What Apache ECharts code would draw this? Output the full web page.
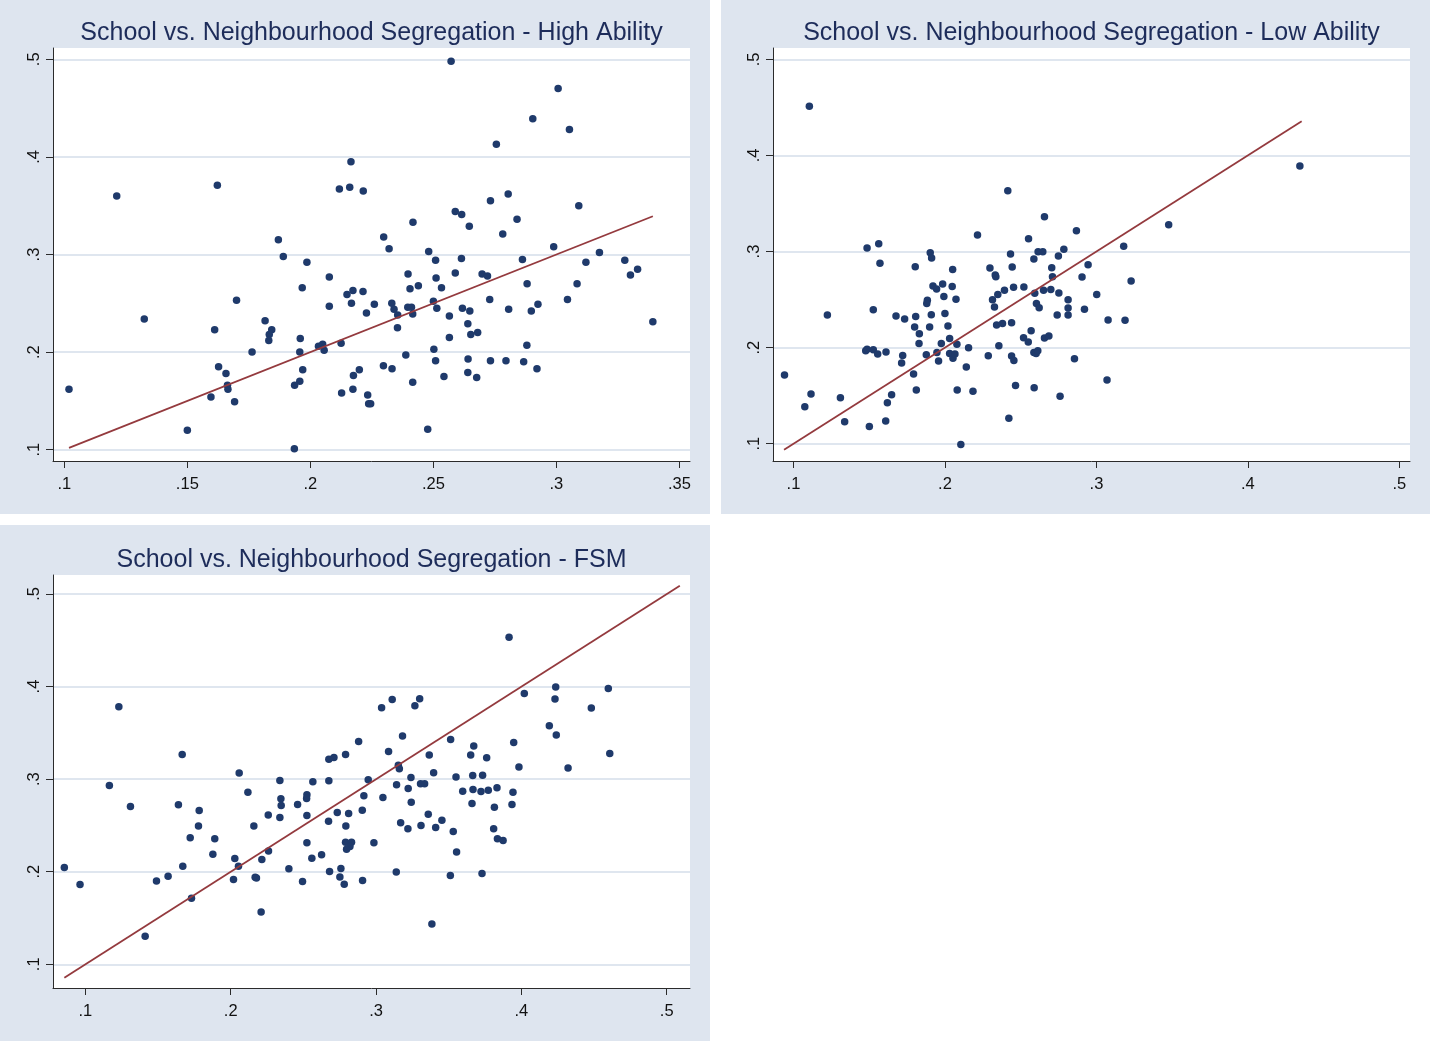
<!DOCTYPE html>
<html>
<head>
<meta charset="utf-8">
<script src="https://cdn.jsdelivr.net/npm/echarts@6/dist/echarts.min.js"></script>
<style>
  html, body { margin: 0; padding: 0; background: #fff; }
  #main { width: 1430px; height: 1041px; }
</style>
</head>
<body>
<div id="main"></div>
<script>
// school segregation (y) vs neighbourhood segregation (x), one pair per area
const highAbility = [
  [0.1019,0.162],[0.1213,0.360],[0.1325,0.234],[0.150,0.120],[0.1622,0.371],[0.1611,0.223],
  [0.1627,0.185],[0.1657,0.178],[0.1663,0.166],[0.1665,0.162],[0.1596,0.154],[0.1692,0.149],
  [0.170,0.253],[0.1763,0.200],[0.1816,0.232],[0.1843,0.223],[0.1833,0.218],[0.1831,0.212],
  [0.187,0.315],[0.189,0.298],[0.1986,0.292],[0.1967,0.266],[0.1959,0.214],[0.1957,0.200],
  [0.1969,0.182],[0.1957,0.170],[0.1936,0.166],[0.1935,0.101],[0.2077,0.277],[0.2077,0.247],
  [0.2033,0.206],[0.205,0.208],[0.2056,0.202],[0.2118,0.367],[0.216,0.369],[0.2165,0.395],
  [0.2149,0.259],[0.2173,0.263],[0.2167,0.250],[0.2125,0.209],[0.2127,0.158],[0.2173,0.162],
  [0.2175,0.176],[0.2199,0.182],[0.2572,0.498],[0.3007,0.470],[0.2904,0.439],[0.3053,0.428],
  [0.2756,0.413],[0.2215,0.365],[0.2732,0.355],[0.2804,0.362],[0.3091,0.350],[0.2589,0.344],
  [0.2615,0.341],[0.2646,0.329],[0.2417,0.333],[0.284,0.336],[0.2782,0.321],[0.2298,0.318],
  [0.232,0.306],[0.2481,0.303],[0.2509,0.294],[0.2614,0.296],[0.2989,0.308],[0.2862,0.295],
  [0.3175,0.302],[0.312,0.292],[0.3278,0.294],[0.3301,0.279],[0.333,0.285],[0.3392,0.231],
  [0.3084,0.270],[0.3045,0.254],[0.2881,0.270],[0.2925,0.249],[0.2898,0.242],[0.2806,0.244],
  [0.288,0.207],[0.2867,0.190],[0.2921,0.183],[0.2795,0.191],[0.2732,0.191],[0.2698,0.280],
  [0.272,0.278],[0.2729,0.254],[0.268,0.220],[0.2652,0.218],[0.264,0.229],[0.2648,0.242],
  [0.2618,0.245],[0.2565,0.237],[0.2565,0.215],[0.2589,0.281],[0.2533,0.266],[0.2511,0.276],
  [0.250,0.252],[0.2514,0.245],[0.2502,0.203],[0.2509,0.191],[0.2543,0.175],[0.2641,0.193],
  [0.264,0.179],[0.2676,0.174],[0.2477,0.121],[0.2397,0.280],[0.2405,0.265],[0.2439,0.268],
  [0.2396,0.246],[0.2411,0.246],[0.2416,0.239],[0.2331,0.250],[0.234,0.244],[0.2355,0.238],
  [0.2354,0.225],[0.226,0.249],[0.2228,0.240],[0.2214,0.262],[0.2388,0.197],[0.2297,0.186],
  [0.2332,0.183],[0.2416,0.169],[0.2233,0.156],[0.2237,0.147],[0.2245,0.147]
];
const lowAbility = [
  [0.0941,0.1715],[0.1105,0.4511],[0.1075,0.1385],[0.1116,0.1517],[0.1224,0.2339],[0.131,0.1479],
  [0.1338,0.1229],[0.1486,0.3036],[0.1563,0.3082],[0.1571,0.2877],[0.1527,0.2395],[0.1477,0.1968],
  [0.1486,0.1982],[0.1527,0.1978],[0.1556,0.1933],[0.1611,0.1954],[0.1501,0.118],[0.1609,0.1236],
  [0.162,0.1427],[0.1648,0.151],[0.1677,0.2329],[0.1734,0.2297],[0.1721,0.1919],[0.1714,0.184],
  [0.1793,0.1725],[0.1811,0.1559],[0.1804,0.2842],[0.1807,0.2325],[0.18,0.2214],[0.1831,0.2145],
  [0.1829,0.2044],[0.1877,0.1926],[0.1903,0.2988],[0.1912,0.2932],[0.1884,0.2492],[0.188,0.246],
  [0.191,0.2343],[0.1899,0.2214],[0.1921,0.2641],[0.1945,0.261],[0.1985,0.2662],[0.1993,0.2533],
  [0.2,0.2356],[0.202,0.2225],[0.1976,0.2044],[0.1947,0.195],[0.1958,0.186],[0.2031,0.2096],
  [0.2031,0.194],[0.2053,0.1888],[0.2066,0.1933],[0.2079,0.2034],[0.2051,0.2814],[0.2048,0.2637],
  [0.2073,0.2502],[0.2081,0.1559],[0.2105,0.0993],[0.2141,0.1798],[0.2156,0.1999],[0.2185,0.1545],
  [0.2215,0.3172],[0.2286,0.1916],[0.2297,0.2828],[0.2332,0.2755],[0.2336,0.2738],[0.2314,0.2499],
  [0.2327,0.2422],[0.2349,0.2554],[0.2393,0.2596],[0.2341,0.2235],[0.238,0.2252],[0.2356,0.202],
  [0.2415,0.3633],[0.2433,0.2974],[0.2444,0.2839],[0.2453,0.2627],[0.244,0.2259],[0.244,0.1912],
  [0.2455,0.1867],[0.2466,0.1607],[0.2422,0.1264],[0.2521,0.2631],[0.2519,0.2103],[0.255,0.2058],
  [0.2552,0.3134],[0.2587,0.2922],[0.2615,0.2998],[0.2646,0.2998],[0.2657,0.3363],[0.2569,0.2176],
  [0.2587,0.195],[0.2602,0.194],[0.2613,0.1968],[0.2589,0.1583],[0.2593,0.2565],[0.2604,0.246],
  [0.2622,0.2415],[0.2651,0.2596],[0.2657,0.21],[0.2686,0.2121],[0.2699,0.2606],[0.2705,0.2832],
  [0.271,0.2738],[0.2749,0.2953],[0.2752,0.2568],[0.2785,0.3023],[0.2741,0.2339],[0.2813,0.2499],
  [0.2813,0.2412],[0.2813,0.2339],[0.276,0.1493],[0.2855,0.1885],[0.2868,0.3217],[0.3477,0.3279],
  [0.318,0.3054],[0.2945,0.2863],[0.2905,0.2735],[0.3229,0.2693],[0.3002,0.2554],[0.2921,0.2398],
  [0.3077,0.2287],[0.3189,0.2284],[0.307,0.1663],[0.4343,0.389]
];
const fsm = [
  [0.0855,0.2045],[0.0963,0.1861],[0.123,0.3782],[0.1165,0.2932],[0.131,0.2705],[0.1411,0.1303],
  [0.1489,0.1901],[0.1569,0.1951],[0.1666,0.3267],[0.164,0.2723],[0.1783,0.2661],[0.1778,0.2495],
  [0.1721,0.2366],[0.167,0.2059],[0.173,0.1714],[0.189,0.2355],[0.1877,0.2189],[0.2058,0.3065],
  [0.2118,0.2859],[0.2159,0.2495],[0.2028,0.2142],[0.2053,0.2059],[0.2019,0.1915],[0.2168,0.1941],
  [0.2177,0.1933],[0.2214,0.2132],[0.2209,0.1566],[0.2258,0.2614],[0.226,0.2225],[0.2338,0.2986],
  [0.2345,0.2787],[0.2347,0.2715],[0.2338,0.2586],[0.246,0.2726],[0.24,0.2031],[0.2524,0.2831],
  [0.2522,0.2791],[0.2565,0.2971],[0.2524,0.2607],[0.2524,0.2312],[0.2558,0.2146],[0.2494,0.1894],
  [0.2625,0.2182],[0.2675,0.3216],[0.271,0.3234],[0.2675,0.2982],[0.2673,0.2546],[0.2733,0.264],
  [0.268,0.2002],[0.279,0.3267],[0.2792,0.2495],[0.2811,0.2629],[0.279,0.2319],[0.2831,0.2319],
  [0.282,0.2272],[0.2797,0.2243],[0.2758,0.2034],[0.2751,0.1944],[0.2781,0.1865],[0.288,0.3407],
  [0.3038,0.3771],[0.3111,0.3861],[0.3267,0.3793],[0.33,0.3868],[0.3182,0.3465],[0.3086,0.3299],
  [0.3153,0.3151],[0.316,0.3112],[0.3366,0.326],[0.3513,0.3429],[0.324,0.3018],[0.3141,0.2939],
  [0.3221,0.2899],[0.3306,0.2949],[0.3334,0.2949],[0.3396,0.3068],[0.3242,0.2751],[0.3047,0.2802],
  [0.2916,0.282],[0.2946,0.2993],[0.2905,0.2665],[0.2985,0.2312],[0.2907,0.1905],[0.3139,0.1998],
  [0.3169,0.2528],[0.3219,0.2463],[0.3309,0.2499],[0.3359,0.2622],[0.341,0.2477],[0.3453,0.2557],
  [0.3531,0.2434],[0.3554,0.2214],[0.3511,0.1959],[0.3384,0.1436],[0.355,0.3022],[0.3596,0.2869],
  [0.3651,0.326],[0.3672,0.3357],[0.3665,0.304],[0.3667,0.2888],[0.366,0.2737],[0.3722,0.2867],
  [0.3733,0.3043],[0.3761,0.3231],[0.3772,0.2881],[0.3832,0.2906],[0.3814,0.2697],[0.3809,0.2463],
  [0.3835,0.2355],[0.3874,0.2337],[0.3729,0.198],[0.3915,0.4532],[0.3947,0.3396],[0.3983,0.313],
  [0.3942,0.2859],[0.3935,0.2726],[0.402,0.3926],[0.4192,0.3577],[0.4231,0.3865],[0.4236,0.3995],
  [0.424,0.3477],[0.4321,0.3119],[0.4481,0.3768],[0.4598,0.398],[0.4608,0.3278]
];

// 45 degree reference line (y = x) drawn between these x values
const highLine = [0.1019, 0.3392];
const lowLine = [0.0938, 0.4355];
const fsmLine = [0.0855, 0.5090];

// tick values
const highXTicks = [0.1, 0.15, 0.2, 0.25, 0.3, 0.35];
const tenthTicks = [0.1, 0.2, 0.3, 0.4, 0.5];

const titles = [
  'School vs. Neighbourhood Segregation - High Ability',
  'School vs. Neighbourhood Segregation - Low Ability',
  'School vs. Neighbourhood Segregation - FSM'
];

const navy = '#1f3a6b';
const maroon = '#943a3e';
const bg = '#dee5ef';
const grey = '#dfe6ef';
const font = 'Liberation Sans, Arial, sans-serif';

const fmt = v => String(+v.toFixed(2)).replace(/^0/, '');

const panels = [
  { data: highAbility, line: highLine, xTicks: highXTicks, x: [0.0954, 0.3543], y: [0.0884, 0.5116],
    grid: { left: 53, top: 48, width: 637, height: 413 }, bgRect: [0, 0, 710, 514] },
  { data: lowAbility, line: lowLine, xTicks: tenthTicks, x: [0.0865, 0.507], y: [0.082, 0.5118],
    grid: { left: 773, top: 48, width: 637, height: 413 }, bgRect: [721, 0, 709, 514] },
  { data: fsm, line: fsmLine, xTicks: tenthTicks, x: [0.0777, 0.516], y: [0.0744, 0.5205],
    grid: { left: 53, top: 575, width: 637, height: 413 }, bgRect: [0, 525, 710, 516] }
];

const axisCommon = {
  type: 'value',
  axisLine: { show: true, onZero: false, lineStyle: { color: '#2b2b2b', width: 1 } },
  axisTick: { show: true, length: 7, lineStyle: { color: '#2b2b2b', width: 1 } },
  axisLabel: { color: '#111', fontSize: 16.5, fontFamily: font, formatter: fmt }
};

const option = {
  animation: false,
  backgroundColor: '#fff',
  graphic: panels.map(p => ({
    type: 'rect', z: -10, silent: true,
    shape: { x: p.bgRect[0], y: p.bgRect[1], width: p.bgRect[2], height: p.bgRect[3] },
    style: { fill: bg }
  })),
  title: panels.map((p, i) => ({
    text: titles[i],
    left: p.grid.left + p.grid.width / 2,
    top: p.grid.top - 27,
    textAlign: 'center',
    padding: 0,
    textStyle: { color: '#1d2c5a', fontSize: 25, fontWeight: 'normal', fontFamily: font }
  })),
  grid: panels.map(p => Object.assign({ show: true, backgroundColor: '#fff', borderWidth: 0 }, p.grid)),
  xAxis: panels.map((p, i) => Object.assign({}, axisCommon, {
    gridIndex: i, min: p.x[0], max: p.x[1],
    axisTick: Object.assign({}, axisCommon.axisTick, { customValues: p.xTicks }),
    axisLabel: Object.assign({}, axisCommon.axisLabel, { customValues: p.xTicks, margin: 15 }),
    splitLine: { show: false }
  })),
  yAxis: panels.map((p, i) => Object.assign({}, axisCommon, {
    gridIndex: i, min: p.y[0], max: p.y[1],
    axisTick: Object.assign({}, axisCommon.axisTick, { customValues: tenthTicks }),
    axisLabel: Object.assign({}, axisCommon.axisLabel, { customValues: tenthTicks, rotate: 90, margin: 10 }),
    splitLine: { show: true, lineStyle: { color: grey, width: 2 } }
  })),
  series: []
};

panels.forEach((p, i) => {
  option.series.push({
    type: 'scatter', xAxisIndex: i, yAxisIndex: i, z: 2,
    symbolSize: 7.5, itemStyle: { color: navy, opacity: 1 },
    data: p.data
  });
  option.series.push({
    type: 'line', xAxisIndex: i, yAxisIndex: i, z: 3,
    symbol: 'none', lineStyle: { color: maroon, width: 1.8 },
    data: [[p.line[0], p.line[0]], [p.line[1], p.line[1]]]
  });
});

const chart = echarts.init(document.getElementById('main'));
chart.setOption(option);
window.addEventListener('resize', () => chart.resize());
</script>
</body>
</html>
